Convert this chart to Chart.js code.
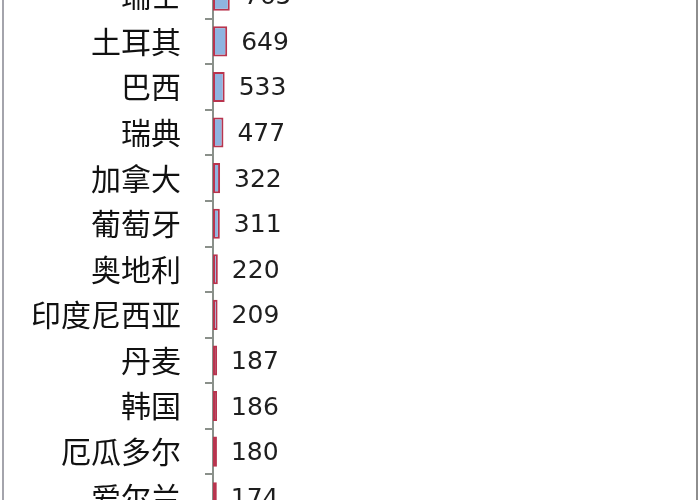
<!DOCTYPE html>
<html>
<head>
<meta charset="utf-8">
<script src="https://cdn.jsdelivr.net/npm/chart.js@4/dist/chart.umd.min.js"></script>
<style>
  html, body { margin: 0; padding: 0; background: #fff; overflow: hidden; }
  #wrap { position: relative; width: 700px; height: 500px; overflow: hidden; }
  #box { position: absolute; left: 0; top: -27px; width: 700px; height: 547px; }
  .edge { position: absolute; top: 0; width: 2px; height: 500px; background: #a4a4ac; }
</style>
</head>
<body>
<div id="wrap">
  <div id="box"><canvas id="barChart"></canvas></div>
  <div class="edge" style="left:2px"></div>
  <div class="edge" style="left:696px; background:#8e8e8e"></div>
</div>
<script>
const countries = ["瑞士", "土耳其", "巴西", "瑞典", "加拿大", "葡萄牙", "奥地利", "印度尼西亚", "丹麦", "韩国", "厄瓜多尔", "爱尔兰"];
const counts = [765, 649, 533, 477, 322, 311, 220, 209, 187, 186, 180, 174];

// draws the value next to the end of each bar
const valueLabels = {
    id: "valueLabels",
    afterDatasetsDraw(chart) {
        const ctx = chart.ctx;
        const meta = chart.getDatasetMeta(0);
        ctx.save();
        ctx.font = "25px 'DejaVu Sans'";
        ctx.fillStyle = "#1e1e1e";
        ctx.textAlign = "left";
        ctx.textBaseline = "middle";
        meta.data.forEach((bar, i) => {
            ctx.fillText(String(counts[i]), bar.x + 14, bar.y + 2);
        });
        ctx.restore();
    }
};

const ctx = document.getElementById("barChart").getContext("2d");

new Chart(ctx, {
    type: "bar",
    data: {
        labels: countries,
        datasets: [{
            data: counts,
            backgroundColor: "#8fb4e0",
            borderColor: "#b8344e",
            borderWidth: 2,
            borderSkipped: false,
            barPercentage: 0.66,
            categoryPercentage: 1
        }]
    },
    options: {
        indexAxis: "y",
        responsive: true,
        maintainAspectRatio: false,
        animation: false,
        layout: { padding: { left: 0, right: 5, top: 0, bottom: 0 } },
        plugins: {
            legend: { display: false },
            tooltip: { enabled: false }
        },
        scales: {
            x: {
                display: false,
                min: 0,
                max: 22000
            },
            y: {
                afterFit: scale => {
                    scale.width = 213;
                    scale.paddingTop = 0;
                    scale.paddingBottom = 0;
                },
                border: { display: true, color: "#8a908a", width: 2 },
                grid: {
                    offset: true,
                    drawOnChartArea: false,
                    drawTicks: true,
                    tickLength: 8,
                    color: "#8a908a",
                    lineWidth: 2
                },
                ticks: {
                    padding: 24,
                    color: "#111",
                    font: { family: "'Noto Sans CJK SC'", size: 30 }
                }
            }
        }
    },
    plugins: [valueLabels]
});
</script>
</body>
</html>
